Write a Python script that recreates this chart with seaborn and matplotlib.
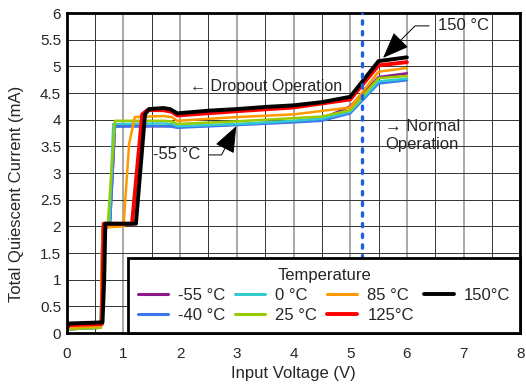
import numpy as np
import pandas as pd
import matplotlib
matplotlib.use("Agg")
import matplotlib.pyplot as plt
from matplotlib.lines import Line2D
from matplotlib.ticker import MultipleLocator, FuncFormatter
import seaborn as sns

# temperature series
temps = ["-55 °C", "-40 °C", "0 °C", "25 °C", "85 °C", "125°C", "150°C"]
colors = ["#8B1A8B", "#3C78F0", "#33CCCC", "#99CC00", "#FF9900", "#FF0000", "#000000"]
widths = [1.8, 1.8, 1.8, 1.8, 1.8, 2.8, 2.8]

v_cold = [0, 0.6, 0.63, 0.76, 0.85, 1.7, 1.85, 1.95, 3.0, 4.0, 4.5, 5.0, 5.5, 6.0]
i_m55 = [0.07, 0.1, 1.95, 2.0, 3.88, 3.88, 3.88, 3.86, 3.91, 3.97, 4.02, 4.25, 4.8, 4.87]
i_m40 = [0.07, 0.1, 1.95, 2.0, 3.87, 3.88, 3.87, 3.85, 3.9, 3.95, 3.98, 4.12, 4.68, 4.74]

v_0 = [0, 0.6, 0.63, 0.75, 0.82, 1.7, 1.85, 1.95, 3.0, 4.0, 4.5, 5.0, 5.5, 6.0]
i_0 = [0.07, 0.1, 1.95, 2.0, 3.92, 3.93, 3.92, 3.88, 3.92, 3.98, 4.02, 4.15, 4.72, 4.77]

v_25 = [0, 0.6, 0.63, 0.72, 0.85, 1.7, 1.85, 1.95, 3.0, 4.0, 4.5, 5.0, 5.5, 6.0]
i_25 = [0.07, 0.1, 1.95, 2.0, 3.98, 3.98, 3.97, 3.92, 3.97, 4.03, 4.06, 4.18, 4.78, 4.82]

v_85 = [0, 0.6, 0.63, 1.0, 1.1, 1.2, 1.7, 1.85, 1.95, 3.0, 4.0, 5.0, 5.5, 6.0]
i_85 = [0.1, 0.13, 1.98, 2.0, 3.55, 4.05, 4.07, 4.05, 3.98, 4.05, 4.1, 4.23, 4.9, 4.97]

v_125 = [0, 0.05, 0.62, 0.65, 1.15, 1.33, 1.42, 1.7, 1.85, 1.95, 3.0, 4.0, 5.0, 5.5, 6.0]
i_125 = [0.1, 0.15, 0.17, 2.05, 2.05, 4.1, 4.18, 4.18, 4.15, 4.08, 4.16, 4.23, 4.38, 5.02, 5.08]

v_150 = [0, 0.05, 0.63, 0.66, 0.68, 1.22, 1.38, 1.45, 1.7, 1.82, 1.95, 2.5, 3.0, 3.5, 4.0, 4.5, 5.0, 5.5, 6.0]
i_150 = [0.12, 0.18, 0.2, 1.0, 2.05, 2.05, 4.1, 4.2, 4.22, 4.2, 4.12, 4.17, 4.2, 4.24, 4.27, 4.33, 4.43, 5.1, 5.17]

volts = [v_cold, v_cold, v_0, v_25, v_85, v_125, v_150]
currents = [i_m55, i_m40, i_0, i_25, i_85, i_125, i_150]

rows = []
for t, vs, cs in zip(temps, volts, currents):
    for v, c in zip(vs, cs):
        rows.append({"Temperature": t, "V": v, "I": c})
df = pd.DataFrame(rows)

sns.set_style("white")
plt.rcParams["font.family"] = ["Liberation Sans", "DejaVu Sans"]

fig = plt.figure(figsize=(5.26, 3.85), dpi=100)
ax = fig.add_axes([0.127, 0.135, 0.862, 0.831])

for t, col, lw in zip(temps, colors, widths):
    sns.lineplot(data=df[df["Temperature"] == t], x="V", y="I", color=col, lw=lw,
                 sort=False, estimator=None, ax=ax, legend=False)

ax.set_xlim(0, 8)
ax.set_ylim(0, 6)
ax.xaxis.set_major_locator(MultipleLocator(1))
ax.xaxis.set_minor_locator(MultipleLocator(0.5))
ax.yaxis.set_major_locator(MultipleLocator(0.5))
ax.yaxis.set_major_formatter(FuncFormatter(lambda v, p: f"{v:g}"))
ax.grid(True, which="major", axis="x", color="#999999", lw=1.2)
ax.grid(True, which="minor", axis="x", color="#333333", lw=0.7)
ax.grid(True, which="major", axis="y", color="#333333", lw=0.7)
ax.set_axisbelow(True)
ax.tick_params(which="both", length=0, labelsize=11)
ax.tick_params(axis="x", pad=10)
ax.tick_params(axis="y", pad=4)
for s in ax.spines.values():
    s.set_color("black")
    s.set_linewidth(2)

ax.set_xlabel("Input Voltage (V)", fontsize=12, labelpad=4)
ax.set_ylabel("Total Quiescent Current (mA)", fontsize=12)
ax.yaxis.set_label_coords(-0.095, 0.434)

ax.axvline(5.2, color="#1a5fe6", lw=2.4, ls=(0, (1.0, 2.2)), dash_capstyle="round", zorder=3)

ax.text(2.17, 4.63, "\u2190 Dropout Operation", fontsize=11.5, ha="left", va="center")
ax.text(5.62, 3.7, "\u2192 Normal\nOperation", fontsize=12, ha="left", va="center", linespacing=1.25)

ax.annotate("-55 °C", xy=(2.99, 3.88), xytext=(1.52, 3.34), fontsize=12, ha="left", va="center",
            arrowprops=dict(arrowstyle="-|>,head_length=1.4,head_width=0.55", color="black",
                            lw=0.7, shrinkA=4, shrinkB=0, relpos=(1, 0.5),
                            connectionstyle="angle,angleA=0,angleB=63,rad=0"), zorder=6)
ax.annotate("150 °C", xy=(5.58, 5.16), xytext=(6.55, 5.76), fontsize=12, ha="left", va="center",
            arrowprops=dict(arrowstyle="-|>,head_length=1.4,head_width=0.55", color="black",
                            lw=0.7, shrinkA=4, shrinkB=0, relpos=(0, 0.5),
                            connectionstyle="angle,angleA=0,angleB=45,rad=0"), zorder=6)

handles = [Line2D([], [], color=c, lw=2.2 if lw < 2 else 2.8) for c, lw in zip(colors, widths)]
leg = ax.legend(handles, temps, ncol=4, title="Temperature", fontsize=12, title_fontsize=12,
                loc="lower left", bbox_to_anchor=(0.135, 0.0, 0.865, 0.24), mode="expand",
                frameon=True, fancybox=False, framealpha=1, edgecolor="black",
                borderpad=0.6, labelspacing=0.3, handlelength=1.8, handletextpad=0.6,
                columnspacing=0.5, borderaxespad=0)
leg.get_frame().set_linewidth(2)
leg.set_zorder(10)

fig.savefig("out.png", dpi=100)
